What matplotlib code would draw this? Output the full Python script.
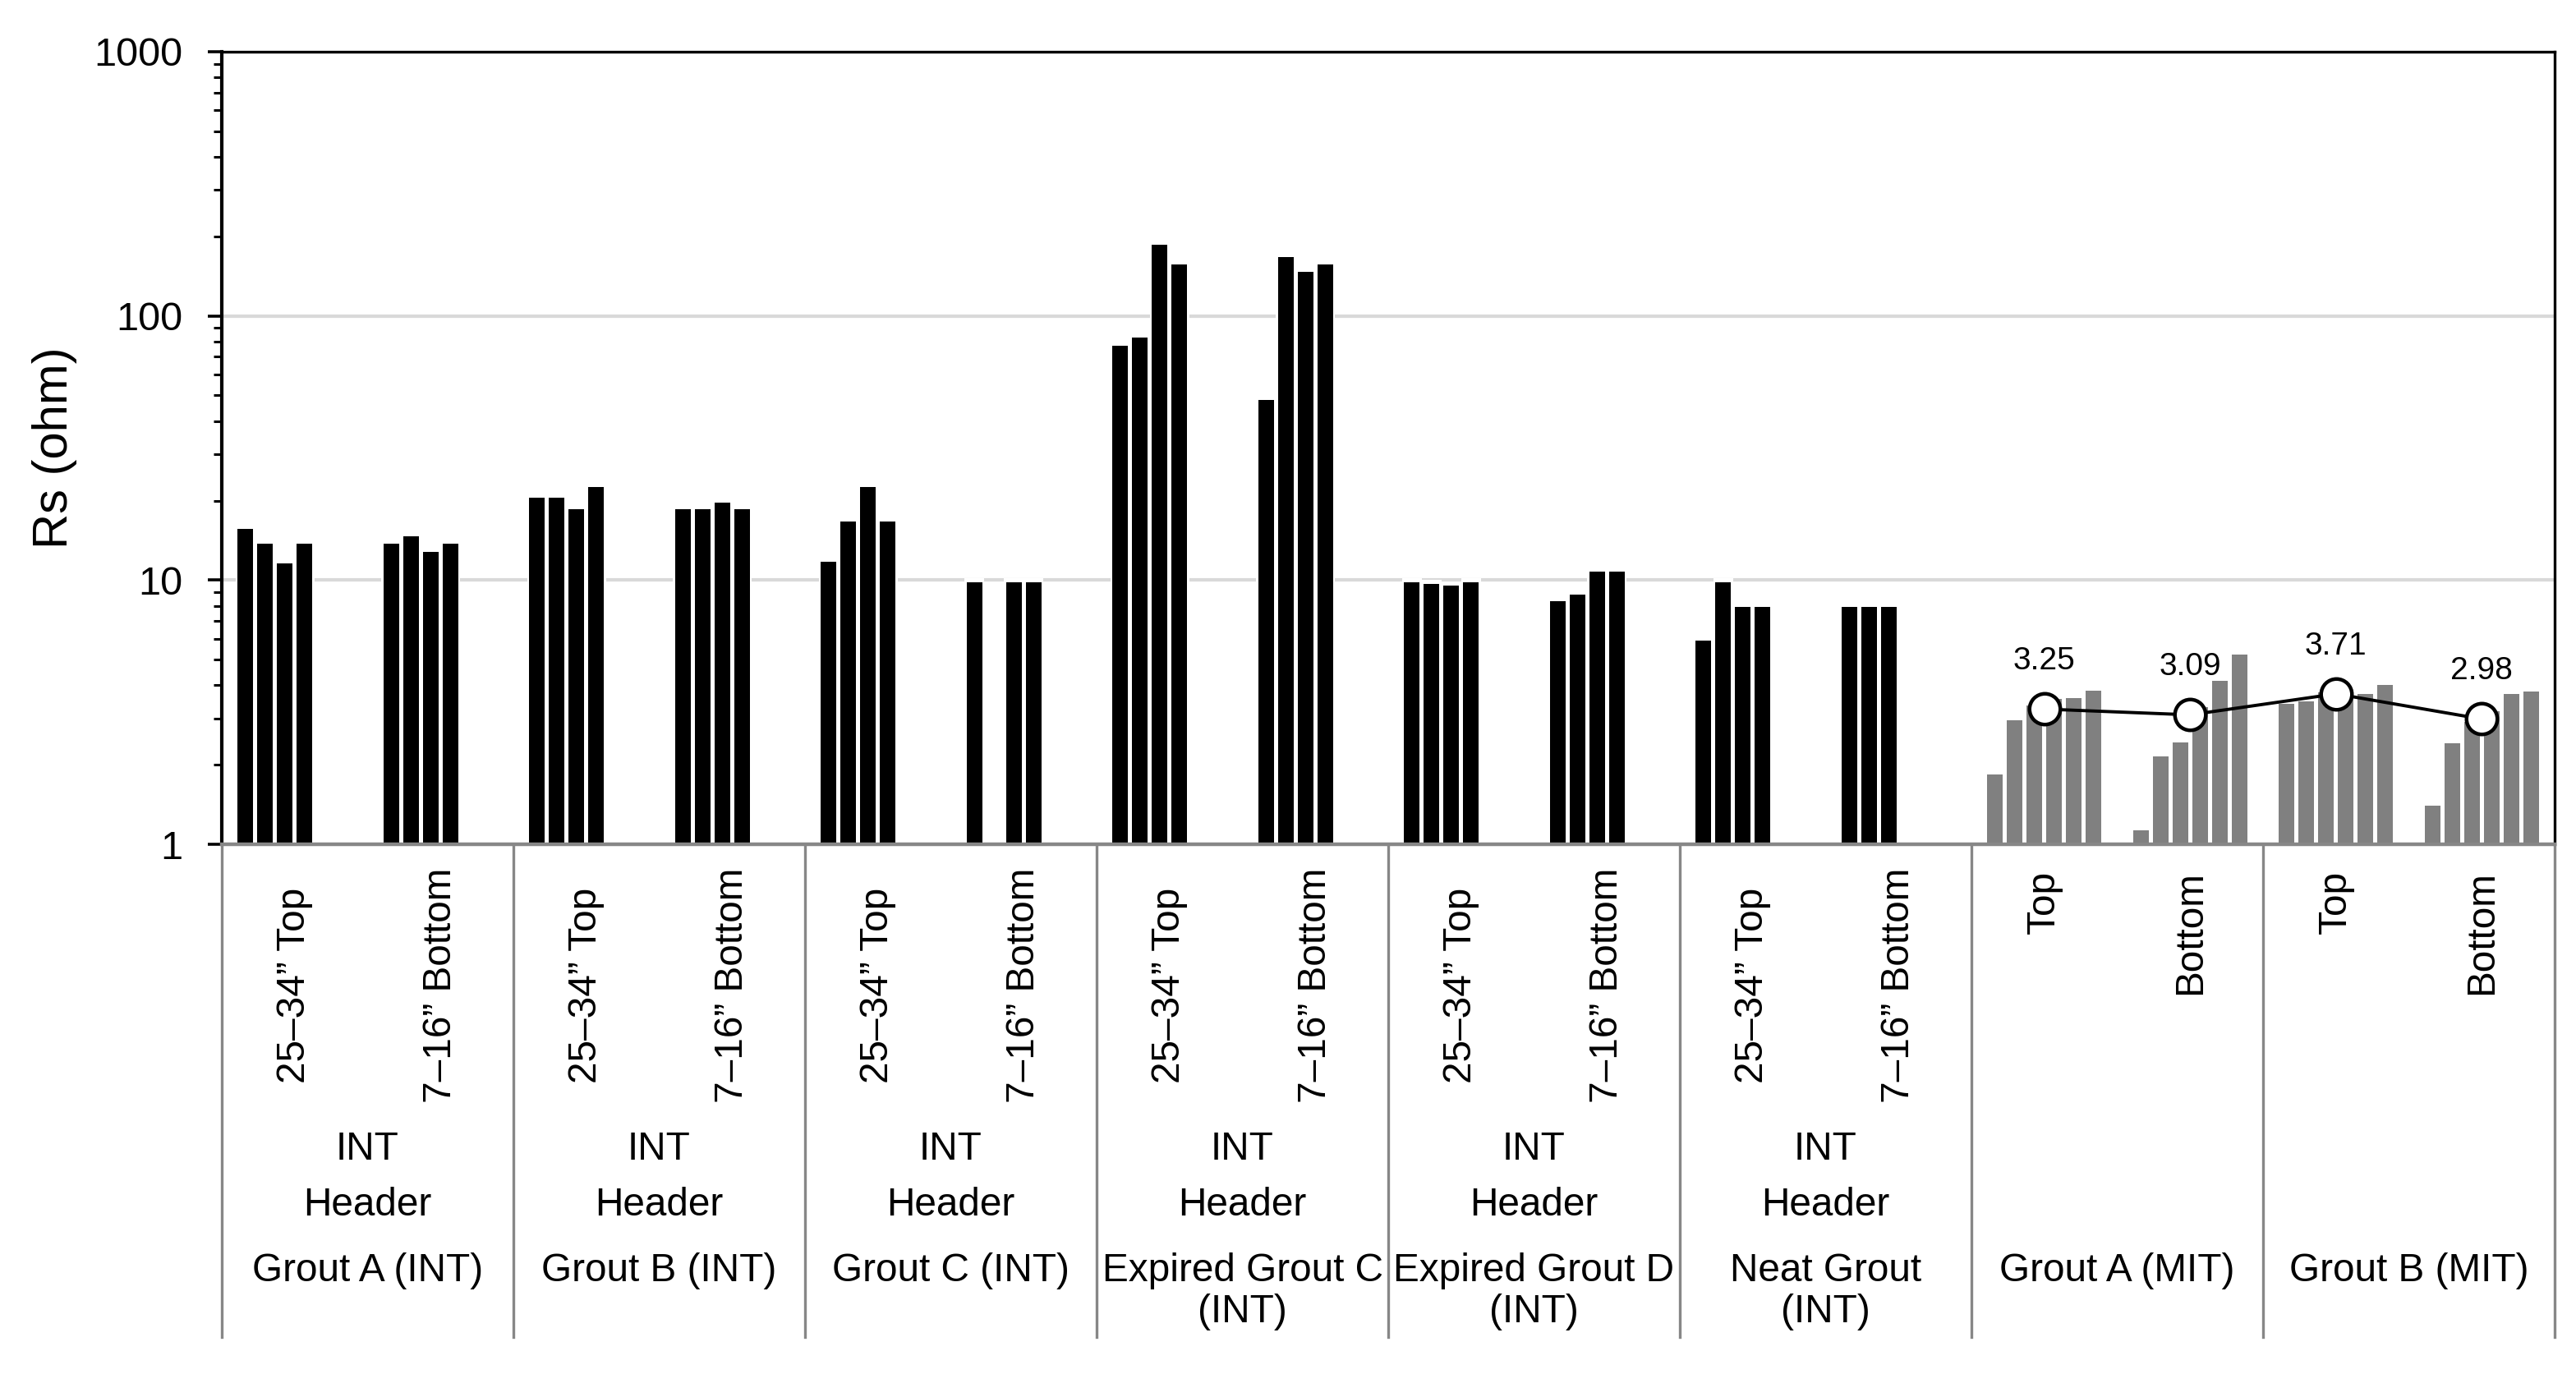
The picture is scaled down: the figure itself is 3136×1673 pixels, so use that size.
import numpy as np
import matplotlib
matplotlib.use('Agg')
import matplotlib.pyplot as plt
from matplotlib import transforms
from matplotlib.lines import Line2D
from matplotlib.ticker import LogLocator, FuncFormatter, NullFormatter

nan = np.nan

# group names (bottom level of the category axis)
int_groups = ['Grout A (INT)', 'Grout B (INT)', 'Grout C (INT)',
              'Expired Grout C\n(INT)', 'Expired Grout D\n(INT)', 'Neat Grout\n(INT)']
mit_groups = ['Grout A (MIT)', 'Grout B (MIT)']
int_sub = ['25\u201334\u201d Top', '7\u201316\u201d Bottom']
mit_sub = ['Top', 'Bottom']

# Rs (ohm) per specimen, INT groups have 4 readings per location
int_top = [[15.6, 13.7, 11.6, 13.7],
           [20.5, 20.5, 18.5, 22.5],
           [11.7, 16.7, 22.5, 16.7],
           [77.0, 83.0, 186.0, 157.0],
           [9.8, 9.7, 9.5, 9.8],
           [5.9, 9.8, 7.9, 7.9]]
int_bottom = [[13.7, 14.6, 12.8, 13.7],
              [18.5, 18.5, 19.6, 18.5],
              [9.8, nan, 9.8, 9.8],
              [48.0, 167.0, 147.0, 157.0],
              [8.3, 8.8, 10.8, 10.8],
              [7.9, 7.9, 7.9, nan]]
# MIT groups have 6 readings per location
mit_top = [[1.84, 2.95, 3.35, 3.56, 3.58, 3.81],
           [3.39, 3.47, 3.75, 3.85, 3.71, 4.01]]
mit_bottom = [[1.13, 2.15, 2.43, 3.3, 4.17, 5.24],
              [1.40, 2.42, 2.9, 3.19, 3.71, 3.80]]
mit_avg = [3.25, 3.09, 3.71, 2.98]

W, H = 3136, 1673
DPI = 200
fig = plt.figure(figsize=(W / DPI, H / DPI), dpi=DPI)
ax = fig.add_axes([270 / W, 1 - 1028 / H, (3110 - 270) / W, (1028 - 63) / H])

cat_font = ['Liberation Sans', 'DejaVu Sans']
num_font = ['Liberation Sans', 'DejaVu Sans']
cat_size = 17.2

pitch = 0.135
bw = 0.107          # visible bar width
halo = 1.036        # white gap above each bar (breaks the gridlines like the original)


def draw_bar(x, v, color):
    ax.bar(x, v * halo - 1, width=pitch, bottom=1, color='white', lw=0, zorder=1.5)
    ax.bar(x, v - 1, width=bw, bottom=1, color=color, lw=0, zorder=2)


# INT bars (black), subcategory index: group g -> 2g (top), 2g+1 (bottom)
for g in range(len(int_groups)):
    for j, vals in enumerate([int_top[g], int_bottom[g]]):
        c = 2 * g + j
        for k, v in enumerate(vals):
            if np.isnan(v):
                continue
            draw_bar(c + (k - 2.5) * pitch, v, 'black')

# MIT bars (gray)
n0 = 2 * len(int_groups)
mit_x = []
for g in range(len(mit_groups)):
    for j, vals in enumerate([mit_top[g], mit_bottom[g]]):
        c = n0 + 2 * g + j
        mit_x.append(c)
        for k, v in enumerate(vals):
            draw_bar(c + (k - 2.5) * pitch, v, '#808080')

ax.plot(mit_x, mit_avg, color='black', lw=1.4, marker='o', markersize=13.5,
        markerfacecolor='white', markeredgecolor='black', markeredgewidth=1.6, zorder=4)
for x, v in zip(mit_x, mit_avg):
    ax.annotate('%.2f' % v, (x, v), xytext=(0, 21), textcoords='offset points',
                ha='center', va='center', fontsize=14, family=num_font, zorder=5)

ax.set_yscale('log')
ax.set_ylim(1, 1000)
ax.set_xlim(-0.5, 15.5)
ax.yaxis.set_major_locator(LogLocator(base=10, numticks=10))
ax.yaxis.set_minor_locator(LogLocator(base=10, subs=np.arange(2, 10), numticks=10))
ax.yaxis.set_major_formatter(FuncFormatter(lambda v, p: '%g' % v))
ax.yaxis.set_minor_formatter(NullFormatter())
ax.tick_params(axis='y', which='major', length=6, width=1.3, pad=11, labelsize=17.5, direction='out')
ax.tick_params(axis='y', which='minor', length=3.6, width=1.1, direction='out')
for lab in ax.get_yticklabels():
    lab.set_family(num_font)
ax.set_xticks([])
ax.grid(True, axis='y', which='major', color='#D9D9D9', lw=1.5, zorder=0)
ax.set_axisbelow(True)

ax.spines['left'].set_linewidth(1.5)
ax.spines['top'].set_linewidth(1.2)
ax.spines['right'].set_linewidth(1.2)
ax.spines['bottom'].set_color('#878787')
ax.spines['bottom'].set_linewidth(1.6)

fig.text(67 / W, 1 - 545 / H, 'Rs (ohm)', rotation=90, ha='center', va='center',
         fontsize=21.5, family=num_font)

# multi-level category labels under the axis
tr = transforms.blended_transform_factory(ax.transData, fig.transFigure)
fy = lambda px: 1 - px / H

for b in np.arange(-0.5, 16, 2):
    fig.add_artist(Line2D([b, b], [fy(1028), fy(1628)], transform=tr,
                          color='#878787', lw=1.2))

for g, name in enumerate(int_groups):
    for j, s in enumerate(int_sub):
        ax.text(2 * g + j, fy(1200), s, transform=tr, rotation=90, ha='center',
                va='center', fontsize=cat_size, family=cat_font)
    ax.text(2 * g + 0.5, fy(1400), 'INT', transform=tr, ha='center', va='center',
            fontsize=cat_size, family=cat_font)
    ax.text(2 * g + 0.5, fy(1467), 'Header', transform=tr, ha='center', va='center',
            fontsize=cat_size, family=cat_font)
    ax.text(2 * g + 0.5, fy(1525), name, transform=tr, ha='center', va='top',
            fontsize=cat_size, family=cat_font, linespacing=1.15)

for g, name in enumerate(mit_groups):
    for j, s in enumerate(mit_sub):
        ax.text(n0 + 2 * g + j, fy(1060), s, transform=tr, rotation=90, ha='center',
                va='top', fontsize=cat_size, family=cat_font)
    ax.text(n0 + 2 * g + 0.5, fy(1525), name, transform=tr, ha='center', va='top',
            fontsize=cat_size, family=cat_font)

fig.savefig('out.png', dpi=DPI)
